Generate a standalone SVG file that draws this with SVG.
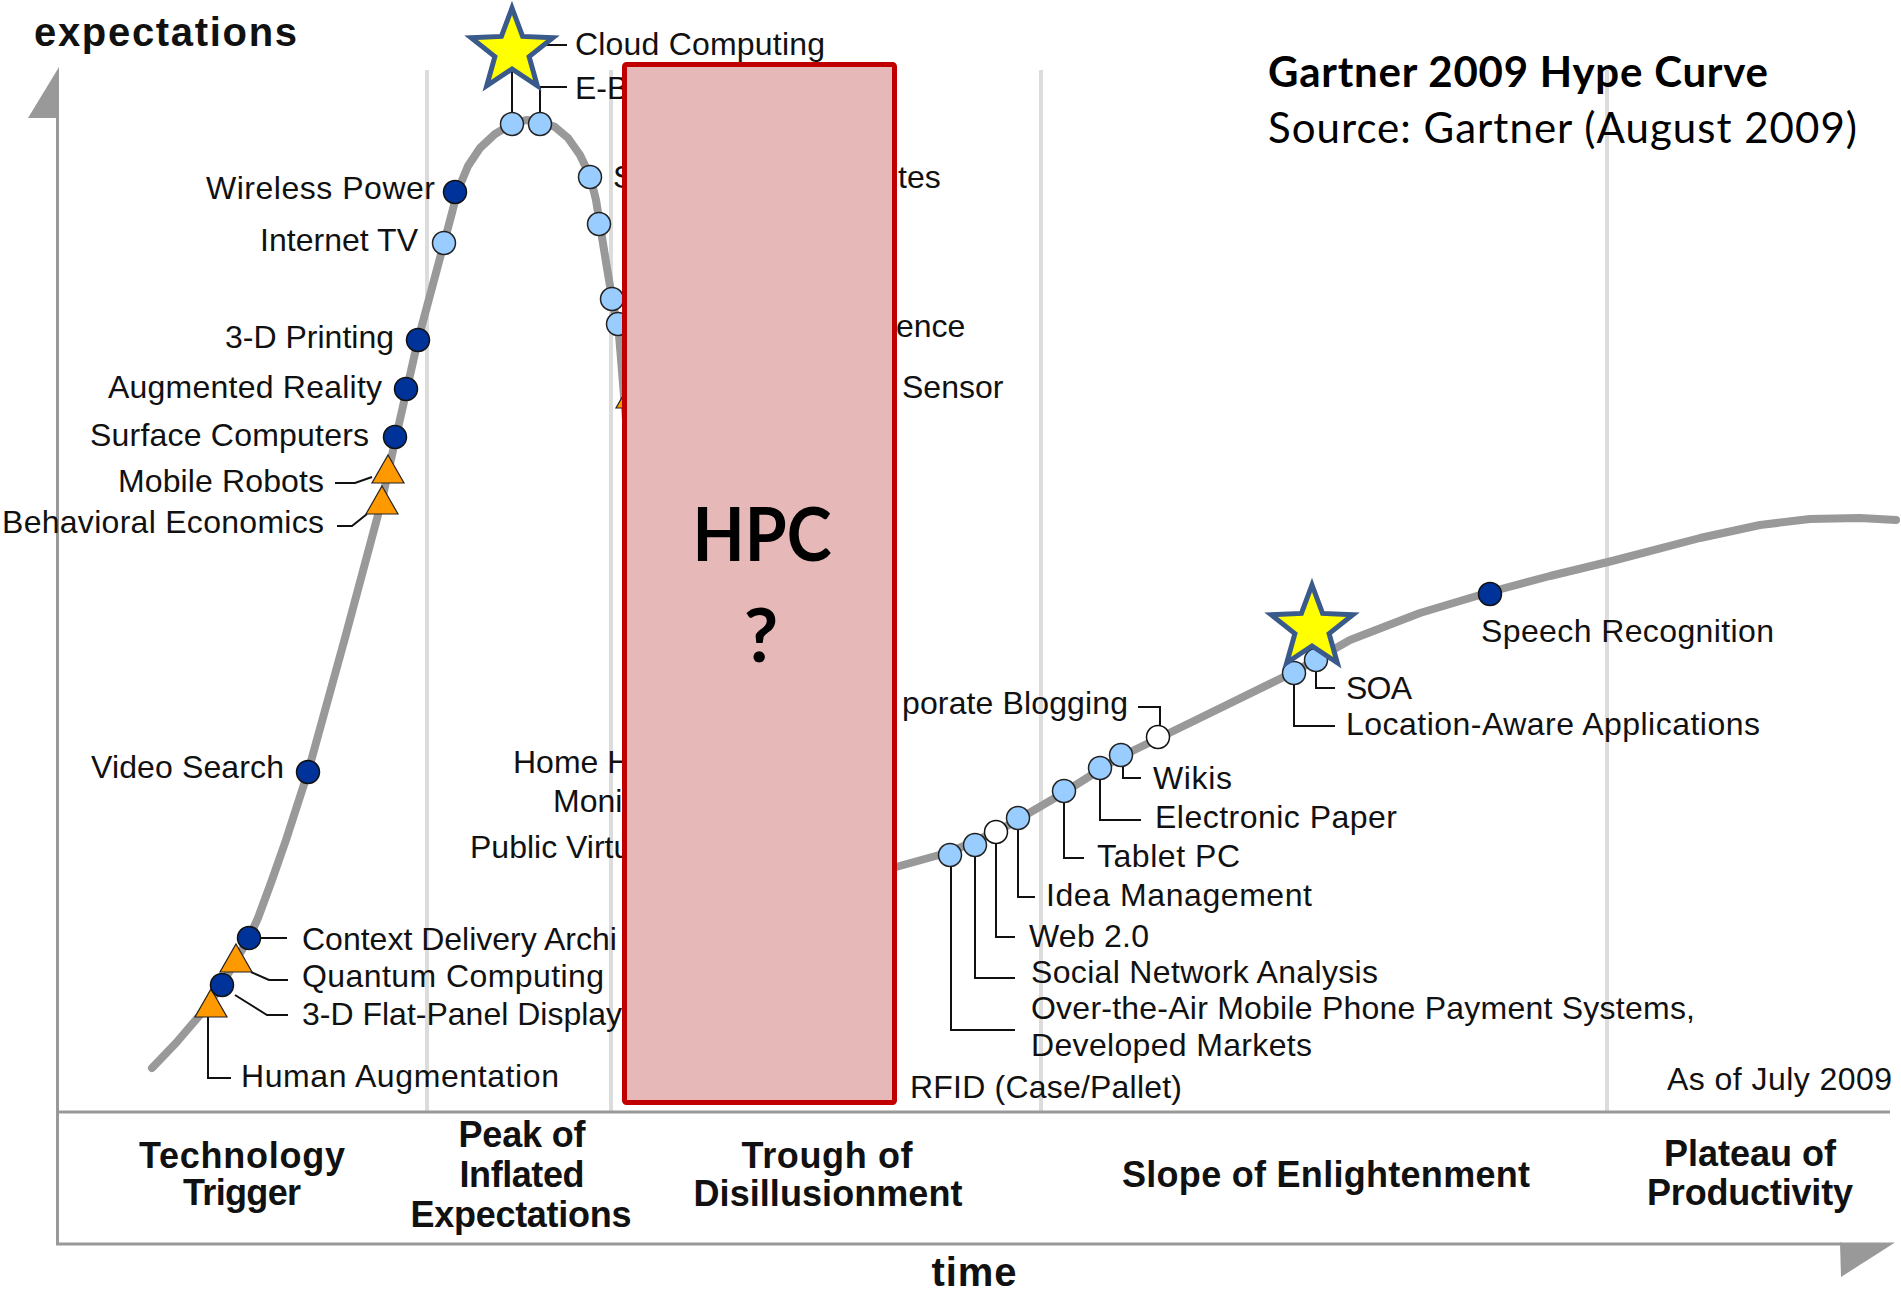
<svg xmlns="http://www.w3.org/2000/svg" width="1901" height="1296" viewBox="0 0 1901 1296">
  <style>
    .lbl { font-family: "Liberation Sans", Arial, sans-serif; font-size: 32px; fill: #111; }
    .phase { font-family: "Liberation Sans", Arial, sans-serif; font-size: 36px; font-weight: bold; fill: #111; text-anchor: middle; }
    .axt { font-family: "Liberation Sans", Arial, sans-serif; font-size: 40px; font-weight: bold; fill: #111; }
    .ttl { font-family: Lato, "Liberation Sans", sans-serif; font-size: 42px; fill: #000; }
    .hpc { font-family: Lato, "Liberation Sans", sans-serif; font-size: 75px; font-weight: bold; fill: #000; text-anchor: middle; }
    .dk { fill: #003399; stroke: #111; stroke-width: 1.5; }
    .lt { fill: #99CCFF; stroke: #222; stroke-width: 1.5; }
    .wt { fill: #ffffff; stroke: #111; stroke-width: 1.5; }
    .tri { fill: #FF9900; stroke: #222; stroke-width: 1.2; }
    .leader { fill: none; stroke: #111; stroke-width: 2; }
    .star { fill: #FFFF00; stroke: #3A5A8C; stroke-width: 5; stroke-linejoin: miter; }
    .phaseline { stroke: #dcdcdc; stroke-width: 4; }
    .axis { stroke: #999; stroke-width: 3; fill: none; }
  </style>
  <defs>
    <polygon id="star5" points="0,-43 10.58,-14.56 40.9,-13.29 17.12,5.56 25.27,34.79 0,18 -25.27,34.79 -17.12,5.56 -40.9,-13.29 -10.58,-14.56"/>
    <polygon id="tri" points="0,-14 16,14 -16,14"/>
  </defs>

  <rect x="0" y="0" width="1901" height="1296" fill="#ffffff"/>

  <!-- phase separators -->
  <g id="phase-lines">
    <line class="phaseline" x1="427" y1="70" x2="427" y2="1111"/>
    <line class="phaseline" x1="611" y1="70" x2="611" y2="1111"/>
    <line class="phaseline" x1="1041" y1="70" x2="1041" y2="1111"/>
    <line class="phaseline" x1="1607" y1="70" x2="1607" y2="1111"/>
  </g>

  <!-- axes -->
  <g id="axes">
    <line class="axis" x1="57.5" y1="116" x2="57.5" y2="1245"/>
    <polygon points="59,67 59,118 28,118" fill="#999"/>
    <line class="axis" x1="56" y1="1112" x2="1890" y2="1112"/>
    <line class="axis" x1="56" y1="1244" x2="1842" y2="1244"/>
    <polygon points="1840,1242.5 1895,1242.5 1841,1277" fill="#999"/>
    <text class="axt" x="34" y="46" textLength="263">expectations</text>
    <text class="axt" x="974" y="1286" text-anchor="middle" textLength="85">time</text>
  </g>

  <!-- phase names -->
  <g id="phases">
    <text class="phase" x="242" y="1168" textLength="206">Technology</text>
    <text class="phase" x="242" y="1205" textLength="118">Trigger</text>
    <text class="phase" x="522" y="1147" textLength="127">Peak of</text>
    <text class="phase" x="522" y="1187" textLength="125">Inflated</text>
    <text class="phase" x="521" y="1227" textLength="221">Expectations</text>
    <text class="phase" x="827" y="1168" textLength="171">Trough of</text>
    <text class="phase" x="828" y="1206" textLength="269">Disillusionment</text>
    <text class="phase" x="1326" y="1187" textLength="408">Slope of Enlightenment</text>
    <text class="phase" x="1750" y="1166" textLength="172">Plateau of</text>
    <text class="phase" x="1750" y="1205" textLength="206">Productivity</text>
  </g>

  <!-- hype curve -->
  <g id="curve">
    <path d="M152,1068 L176,1043 L200,1015 L220,988 L236,960 L248,940 L258,918 L272,880 L286,840 L308,772 L345,638 L382,500 L396,437 L418,340 L444,243 L458,190 L468,166 L480,148 L495,134 L512,124 L526,120 L540,121 L555,127 L568,138 L580,155 L590,176 L596,200 L600,225 L606,262 L612,298 L619,335 L626,420 L640,560 L660,700 L690,800 L730,860 L780,880 L840,878 L896,867 L950,852 L1000,830 L1060,795 L1120,757 L1200,718 L1294,672 L1350,640 L1420,613 L1490,592 L1550,576 L1612,561 L1700,538 L1760,525 L1810,519 L1860,518 L1896,520" fill="none" stroke="#999" stroke-width="8" stroke-linejoin="round" stroke-linecap="round"/>
  </g>

  <!-- leader lines from markers to their labels -->
  <g id="connectors">
    <path class="leader" d="M335,483 H355 L372,477"/>
    <path class="leader" d="M337,526 H352 L367,514"/>
    <path class="leader" d="M261,938 H287"/>
    <path class="leader" d="M251,972 L269,980 H288"/>
    <path class="leader" d="M235,995 L267,1015 H288"/>
    <path class="leader" d="M208,1017 V1078 H231"/>
    <path class="leader" d="M512,112 V45 H567"/>
    <path class="leader" d="M540,112 V87 H567"/>
    <path class="leader" d="M1138,707 H1160 V726"/>
    <path class="leader" d="M1123,765 V778 H1141"/>
    <path class="leader" d="M1100,780 V820 H1141"/>
    <path class="leader" d="M1064,802 V858 H1084"/>
    <path class="leader" d="M1018,830 V897 H1035"/>
    <path class="leader" d="M996,843 V937 H1015"/>
    <path class="leader" d="M975,857 V978 H1015"/>
    <path class="leader" d="M951,867 V1030 H1015"/>
    <path class="leader" d="M1316,671 V688 H1335"/>
    <path class="leader" d="M1294,685 V726 H1335"/>
  </g>

  <!-- technology markers with labels -->
  <g id="human-augmentation"><use href="#tri" class="tri" x="211" y="1003"/><text class="lbl" x="241" y="1087" textLength="318">Human Augmentation</text></g>
  <g id="quantum-computing"><use href="#tri" class="tri" x="236" y="958"/><text class="lbl" x="302" y="987" textLength="302">Quantum Computing</text></g>
  <g id="flat-panel"><circle class="dk" cx="222" cy="985" r="11.5"/><text class="lbl" x="302" y="1025">3-D Flat-Panel Display</text></g>
  <g id="context-delivery"><circle class="dk" cx="249" cy="938" r="11.5"/><text class="lbl" x="302" y="950">Context Delivery Archi</text></g>
  <g id="video-search"><circle class="dk" cx="308" cy="772" r="11.5"/><text class="lbl" x="91" y="778" textLength="193">Video Search</text></g>
  <g id="behavioral-economics"><use href="#tri" class="tri" x="382" y="500"/><text class="lbl" x="2" y="533" textLength="322">Behavioral Economics</text></g>
  <g id="mobile-robots"><use href="#tri" class="tri" x="388" y="469"/><text class="lbl" x="118" y="492" textLength="206">Mobile Robots</text></g>
  <g id="surface-computers"><circle class="dk" cx="395" cy="437" r="11.5"/><text class="lbl" x="90" y="446" textLength="279">Surface Computers</text></g>
  <g id="augmented-reality"><circle class="dk" cx="406" cy="389" r="11.5"/><text class="lbl" x="108" y="398" textLength="274">Augmented Reality</text></g>
  <g id="printing-3d"><circle class="dk" cx="418" cy="340" r="11.5"/><text class="lbl" x="225" y="348" textLength="169">3-D Printing</text></g>
  <g id="internet-tv"><circle class="lt" cx="444" cy="243" r="11.5"/><text class="lbl" x="260" y="251" textLength="158">Internet TV</text></g>
  <g id="wireless-power"><circle class="dk" cx="455" cy="192" r="11.5"/><text class="lbl" x="206" y="199" textLength="229">Wireless Power</text></g>
  <g id="e-b"><circle class="lt" cx="540" cy="124" r="11.5"/><text class="lbl" x="575" y="99">E-B</text></g>
  <g id="cloud-computing"><circle class="lt" cx="512" cy="124" r="11.5"/><use href="#star5" class="star" x="512" y="51"/><text class="lbl" x="575" y="55" textLength="250">Cloud Computing</text></g>
  <g id="falling-s"><circle class="lt" cx="590" cy="177" r="11.5"/><text class="lbl" x="613" y="188">S</text></g>
  <g id="falling-2"><circle class="lt" cx="599" cy="224" r="11.5"/></g>
  <g id="falling-3"><circle class="lt" cx="612" cy="299" r="11.5"/></g>
  <g id="falling-4"><circle class="lt" cx="618" cy="324" r="11.5"/></g>
  <g id="falling-5"><use href="#tri" class="tri" x="632" y="394"/></g>
  <g id="home-health"><text class="lbl" x="513" y="773">Home H</text><text class="lbl" x="553" y="812">Moni</text></g>
  <g id="public-virtual"><text class="lbl" x="470" y="858">Public Virtu</text></g>

  <g id="ota-payment"><circle class="lt" cx="950" cy="855" r="11.5"/><text class="lbl" x="1031" y="1019" textLength="664">Over-the-Air Mobile Phone Payment Systems,</text><text class="lbl" x="1031" y="1056" textLength="281">Developed Markets</text></g>
  <g id="social-network-analysis"><circle class="lt" cx="975" cy="845" r="11.5"/><text class="lbl" x="1031" y="983" textLength="347">Social Network Analysis</text></g>
  <g id="web-2"><circle class="wt" cx="996" cy="832" r="11.5"/><text class="lbl" x="1029" y="947" textLength="120">Web 2.0</text></g>
  <g id="idea-management"><circle class="lt" cx="1018" cy="818" r="11.5"/><text class="lbl" x="1046" y="906" textLength="266">Idea Management</text></g>
  <g id="tablet-pc"><circle class="lt" cx="1064" cy="791" r="11.5"/><text class="lbl" x="1097" y="867" textLength="143">Tablet PC</text></g>
  <g id="electronic-paper"><circle class="lt" cx="1100" cy="768" r="11.5"/><text class="lbl" x="1155" y="828" textLength="242">Electronic Paper</text></g>
  <g id="wikis"><circle class="lt" cx="1121" cy="755" r="11.5"/><text class="lbl" x="1153" y="789" textLength="79">Wikis</text></g>
  <g id="corporate-blogging"><circle class="wt" cx="1158" cy="737" r="11.5"/><text class="lbl" x="902" y="714" textLength="226">porate Blogging</text></g>
  <g id="location-aware"><circle class="lt" cx="1294" cy="673" r="11.5"/><text class="lbl" x="1346" y="735" textLength="414">Location-Aware Applications</text></g>
  <g id="soa"><circle class="lt" cx="1316" cy="660" r="11.5"/><use href="#star5" class="star" x="1312" y="628"/><text class="lbl" x="1346" y="699" textLength="66">SOA</text></g>
  <g id="speech-recognition"><circle class="dk" cx="1490" cy="594" r="11.5"/><text class="lbl" x="1481" y="642" textLength="293">Speech Recognition</text></g>

  <g id="right-fragments">
    <text class="lbl" x="898" y="188">tes</text>
    <text class="lbl" x="896" y="337">ence</text>
    <text class="lbl" x="902" y="398">Sensor</text>
    <text class="lbl" x="910" y="1098" textLength="272">RFID (Case/Pallet)</text>
    <text class="lbl" x="1667" y="1090" textLength="225">As of July 2009</text>
  </g>

  <!-- HPC overlay box -->
  <g id="hpc-box">
    <rect x="624.5" y="64.5" width="270" height="1038" rx="2" fill="#E6B8B7" stroke="#C00000" stroke-width="5"/>
    <text class="hpc" x="762" y="561" textLength="139" lengthAdjust="spacingAndGlyphs">HPC</text>
    <text class="hpc" x="761" y="662">?</text>
  </g>

  <!-- chart title -->
  <g id="title">
    <text class="ttl" x="1268" y="87" font-weight="bold" textLength="500">Gartner 2009 Hype Curve</text>
    <text class="ttl" x="1268" y="143" textLength="589">Source: Gartner (August 2009)</text>
  </g>
</svg>
